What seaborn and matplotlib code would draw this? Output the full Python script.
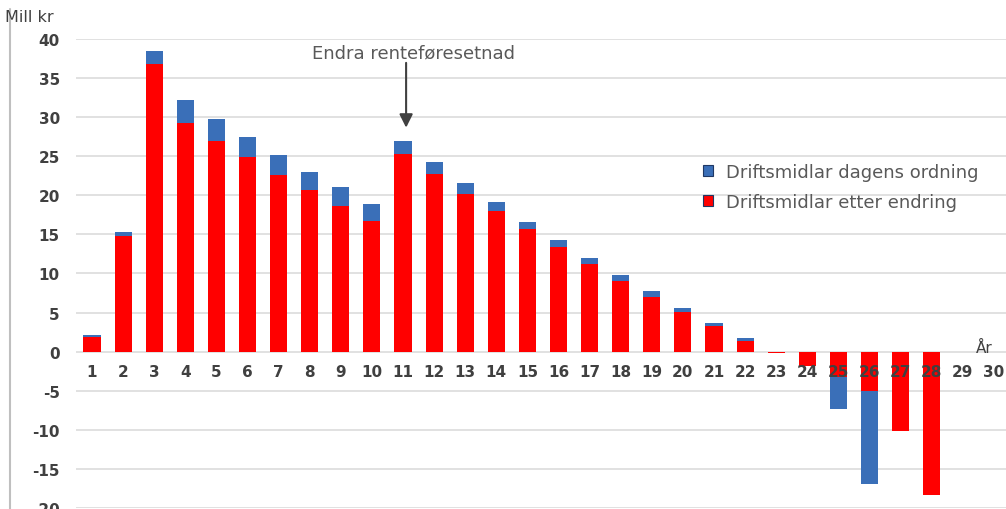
import matplotlib
matplotlib.use("Agg")
import matplotlib.pyplot as plt
from matplotlib.patches import Patch
from matplotlib.lines import Line2D
import seaborn as sns

# Values (Mill kr per year)
years = [str(y) for y in range(1, 31)]
dagens = [2.1, 15.3, 38.4, 32.2, 29.8, 27.5, 25.2, 23.0, 21.1, 18.9,
          27.0, 24.3, 21.6, 19.2, 16.6, 14.3, 12.0, 9.8, 7.7, 5.6,
          3.7, 1.8, 0.0, -1.0, -7.4, -16.9, 0.0, 0.0, 0.0, 0.0]
etter = [1.9, 14.8, 36.8, 29.2, 27.0, 24.9, 22.6, 20.7, 18.6, 16.7,
         25.3, 22.7, 20.2, 18.0, 15.7, 13.4, 11.2, 9.1, 7.0, 5.1,
         3.3, 1.4, -0.2, -1.9, -3.3, -5.0, -10.2, -18.4, 0.0, 0.0]
y_ticks = list(range(-20, 45, 5))

blue = "#3a6fb8"
red = "#ff0000"
text_grey = "#595959"

sns.set_theme(style="white")
plt.rcParams["font.family"] = ["DejaVu Sans"]

fig = plt.figure(figsize=(10.06, 5.1), dpi=100)
ax = fig.add_axes([0.076, 0.002, 0.924, 0.9196])

sns.barplot(x=years, y=dagens, color=blue, saturation=1, width=0.55,
            errorbar=None, ax=ax, linewidth=0)
sns.barplot(x=years, y=etter, color=red, saturation=1, width=0.55,
            errorbar=None, ax=ax, linewidth=0)

ax.set_ylim(-20, 40)
ax.set_xlim(-0.5, 29.39)
ax.set_yticks(y_ticks)
ax.set_yticklabels([str(v) for v in y_ticks], fontsize=11, fontweight="bold",
                   color="#404040")
ax.grid(axis="y", color="#dcdcdc", linewidth=1.2)
ax.set_axisbelow(True)

# x labels sit on the zero line, drawn above the bars
ax.spines["bottom"].set_position(("data", 0))
for s in ["top", "right", "left", "bottom"]:
    ax.spines[s].set_visible(False)
ax.tick_params(axis="x", length=0, pad=9, labelsize=11, labelcolor="#404040")
for lbl in ax.get_xticklabels():
    lbl.set_fontweight("bold")
ax.tick_params(axis="y", length=0, pad=12)
ax.xaxis.set_zorder(5)
ax.set_xlabel("")
ax.set_ylabel("")

ax.text(28.7, 0.5, "År", fontsize=11, color="#404040", ha="center",
        va="center")
fig.text(5 / 1006, 1 - 18 / 510, "Mill kr", fontsize=11.5, color="#404040",
         ha="left", va="center")

# Annotation arrow to year 11
ax.text(10.35, 38.3, "Endra renteføresetnad", fontsize=13, color=text_grey,
        ha="center", va="center")
ax.annotate("", xy=(10.1, 28.3), xytext=(10.1, 37.3),
            arrowprops=dict(arrowstyle="-|>", color="#404040", lw=1.5,
                            mutation_scale=20))

handles = [Patch(facecolor=blue, edgecolor="#1f3864", linewidth=0.8),
           Patch(facecolor=red, edgecolor="#1f3864", linewidth=0.8)]
fig.legend(handles, ["Driftsmidlar dagens ordning", "Driftsmidlar etter endring"],
           loc="upper left", bbox_to_anchor=(694 / 1006, 1 - 155 / 510),
           frameon=False, fontsize=13, labelcolor=text_grey,
           handlelength=0.55, handleheight=0.55, handletextpad=0.7,
           labelspacing=0.65, borderpad=0)

# thin frame line at the left edge of the original image
fig.add_artist(Line2D([10 / 1006, 10 / 1006], [0, 1 - 10 / 510],
                      transform=fig.transFigure, color="#bfbfbf", lw=1.5))

fig.savefig("out.png", dpi=100)
